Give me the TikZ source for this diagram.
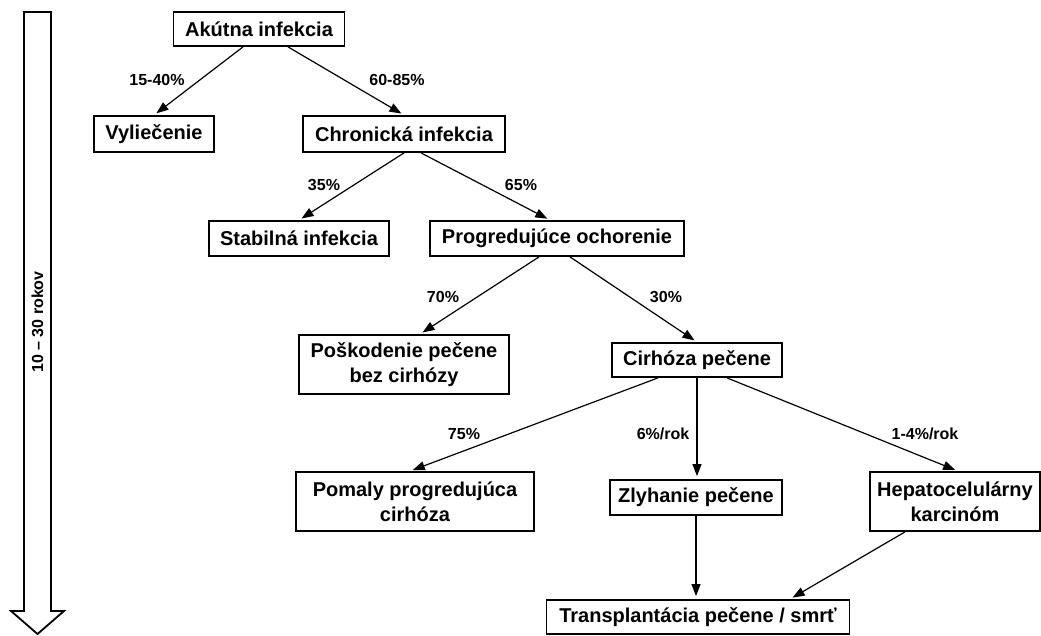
\documentclass[tikz,border=0pt]{standalone}
\usepackage{fontspec}
\setmainfont{Liberation Sans}
\usetikzlibrary{arrows.meta}
\begin{document}
\begin{tikzpicture}[x=1pt,y=-1pt,
  box/.style={draw,line width=1.8pt,inner sep=0pt,align=center,
    font=\fontsize{20}{25}\selectfont\bfseries},
  lbl/.style={inner sep=0pt,font=\fontsize{16}{19}\selectfont\bfseries},
  arr/.style={line width=1.2pt,-{Triangle[length=12pt,width=9pt]},shorten >=3pt}]
\useasboundingbox (0,0) rectangle (1041,635);

% time axis arrow
\coordinate (t1) at (24,12);
\coordinate (t2) at (51,12);
\coordinate (t3) at (51,611);
\coordinate (t4) at (64,611);
\coordinate (t5) at (37.5,634);
\coordinate (t6) at (11,611);
\coordinate (t7) at (24,611);
\draw[line width=1.8pt,line join=miter] (t1) -- (t2) -- (t3) -- (t4) -- (t5) -- (t6) -- (t7) -- cycle;
\node[lbl,rotate=90] (time) at (37.5,322) {10 -- 30 rokov};

% states
\node[box,minimum width=171pt,minimum height=34pt] (A) at (259,29) {Akútna infekcia};
\node[box,minimum width=120pt,minimum height=36pt] (V) at (154,134) {Vyliečenie};
\node[box,minimum width=202pt,minimum height=36pt] (C) at (404,134) {Chronická infekcia};
\node[box,minimum width=180pt,minimum height=35pt] (S) at (299,238.5) {Stabilná infekcia};
\node[box,minimum width=254pt,minimum height=35pt] (P) at (557,238.5) {Progredujúce ochorenie};
\node[box,minimum width=210pt,minimum height=59pt] (D) at (404,364.5) {Poškodenie pečene\\bez cirhózy};
\node[box,minimum width=170pt,minimum height=34pt] (Ci) at (697,360) {Cirhóza pečene};
\node[box,minimum width=238pt,minimum height=59pt] (L) at (415,501.5) {Pomaly progredujúca\\cirhóza};
\node[box,minimum width=172pt,minimum height=35pt] (F) at (696,497.5) {Zlyhanie pečene};
\node[box,minimum width=170pt,minimum height=59pt] (H) at (955,501.5) {Hepatocelulárny\\karcinóm};
\node[box,minimum width=303pt,minimum height=34pt] (T) at (698,617) {Transplantácia pečene / smrť};

% transitions
\draw[arr] ([xshift=-16pt]A.south) -- (V.north);
\draw[arr] ([xshift=29pt]A.south) -- (C.north);
\draw[arr] (C.south) -- (S.north);
\draw[arr] ([xshift=17pt]C.south) -- ([xshift=-7pt]P.north);
\draw[arr] ([xshift=-18pt]P.south) -- ([xshift=16pt]D.north);
\draw[arr] ([xshift=13pt]P.south) -- (Ci.north);
\draw[arr] ([xshift=-39pt]Ci.south) -- ([xshift=-5pt]L.north);
\draw[arr] (Ci.south) -- (Ci.south |- F.north);
\draw[arr] ([xshift=30pt]Ci.south) -- ([xshift=3pt]H.north);
\draw[arr] (F.south) -- (F.south |- T.north);
\draw[arr] ([xshift=-50pt]H.south) -- ([xshift=92pt]T.north);

% transition probabilities
\node[lbl] (p1) at (157,80) {15-40\%};
\node[lbl] (p2) at (397,80) {60-85\%};
\node[lbl] (p3) at (324,185) {35\%};
\node[lbl] (p4) at (521,185) {65\%};
\node[lbl] (p5) at (443,297) {70\%};
\node[lbl] (p6) at (666,297) {30\%};
\node[lbl] (p7) at (464,434) {75\%};
\node[lbl] (p8) at (663,434) {6\%/rok};
\node[lbl] (p9) at (925,434) {1-4\%/rok};
\end{tikzpicture}
\end{document}
